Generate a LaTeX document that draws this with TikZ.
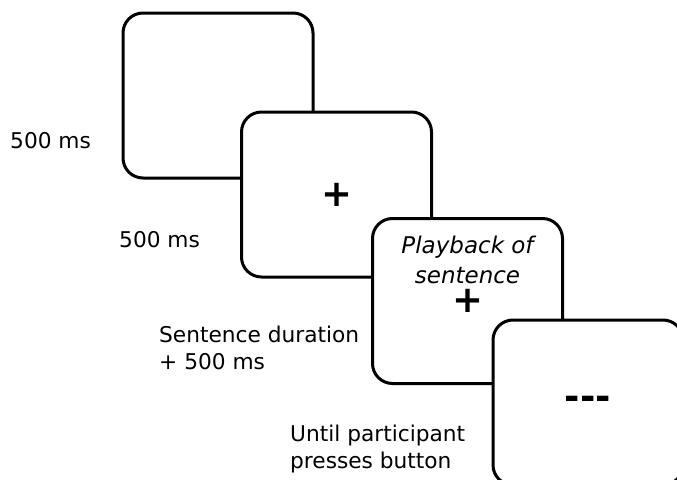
\documentclass[tikz,border=0pt]{standalone}
\usepackage{fontspec}
\setmainfont{DejaVu Sans}
\usetikzlibrary{positioning}

\begin{document}
\begin{tikzpicture}[x=1pt,y=-1pt,
		screen/.style={draw,fill=white,line width=3pt,rounded corners=20pt,minimum width=190pt,minimum height=165pt,inner sep=0pt},
		timing/.style={inner sep=0pt,anchor=base west,align=left,font=\fontsize{21.7}{27}\selectfont},
		cue/.style={inner sep=0pt,font=\fontsize{37}{37}\selectfont\bfseries}]
		\useasboundingbox (0,0) rectangle (677,479);
		\clip (0,0) rectangle (677,479);
		\node[screen] (blank) at (218,95.5) {};
		\node[screen] (fix) at (336.5,194.5) {};
		\node[screen] (play) at (467.5,301) {};
		\node[screen] (resp) at (588,402.5) {};
		\node[cue] (fixcross) at (fix.center) {+};
		\node[cue] (playcross) at (play.center) {+};
		\node[cue] (dashes) at (resp.center) {-{}-{}-};
		\node[inner sep=0pt,align=center,font=\fontsize{23}{30}\selectfont\itshape,above=5pt of playcross] (playtext) {Playback of\\sentence};
		\node[timing] (t1) at (10,148) {500 ms};
		\node[timing] (t2) at (119,247) {500 ms};
		\node[timing] (t3) at (159,369) {Sentence duration\\+ 500 ms};
		\node[timing] (t4) at (290,468) {Until participant\\presses button};
	\end{tikzpicture}
\end{document}
